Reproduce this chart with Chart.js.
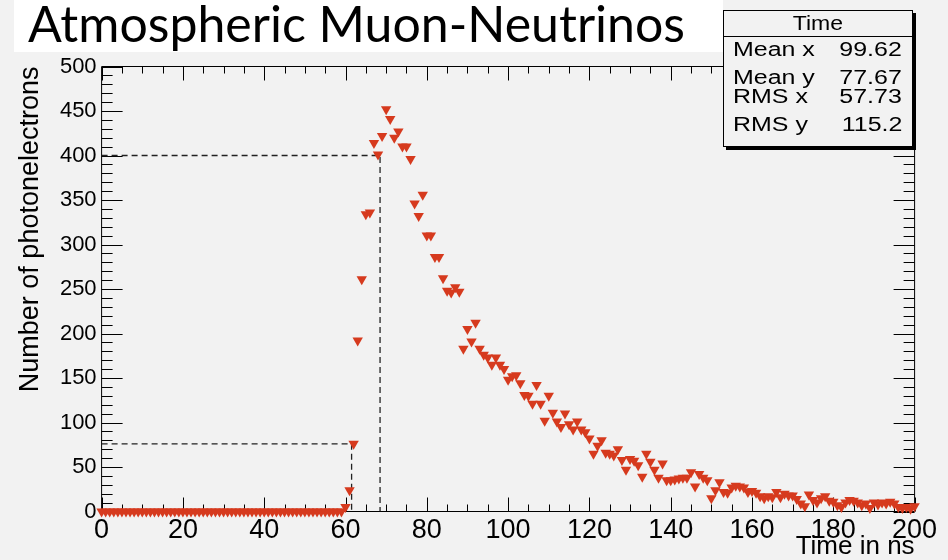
<!DOCTYPE html>
<html><head><meta charset="utf-8">
<script src="https://cdn.jsdelivr.net/npm/chart.js@4.4.0/dist/chart.umd.min.js"></script>
<style>
html,body{margin:0;padding:0;background:#f2f2f2;}
#wrap{position:relative;width:948px;height:560px;overflow:hidden;background:#f2f2f2;}
#c{position:absolute;left:0;top:0;}
#titlebox{position:absolute;left:14px;top:0;width:709px;height:52px;background:#fff;}
#title{position:absolute;left:28px;top:-2px;font-family:Lato,"Open Sans",sans-serif;font-size:50px;line-height:1;color:#000;white-space:nowrap;}
#stats{position:absolute;left:723px;top:10px;width:188px;height:135px;border:1px solid #000;background:#f2f2f2;box-shadow:3px 3px 0 #000;font-family:"Liberation Sans",Arial,sans-serif;color:#000;}
#stats .sep{position:absolute;left:0;right:0;top:25px;height:0;border-top:1px solid #000;}
#stats .hdr{position:absolute;left:0;right:0;top:2px;text-align:center;font-size:20px;line-height:1;}
#stats .hdr span{display:inline-block;transform:scaleX(1.15);}
#stats .lab{position:absolute;left:9px;font-size:19.5px;line-height:1;transform:scaleX(1.28);transform-origin:left center;white-space:nowrap;}
#stats .val{position:absolute;right:10px;font-size:19.5px;line-height:1;transform:scaleX(1.28);transform-origin:right center;white-space:nowrap;}
</style>
</head><body>
<div id="wrap">
  <canvas id="c" width="948" height="560"></canvas>
  <div id="titlebox"></div>
  <div id="title">Atmospheric Muon-Neutrinos</div>
  <div id="stats">
    <div class="hdr"><span>Time</span></div>
    <div class="sep"></div>
    <div class="lab" style="top:29px">Mean x</div><div class="val" style="top:29px">99.62</div>
    <div class="lab" style="top:57px">Mean y</div><div class="val" style="top:57px">77.67</div>
    <div class="lab" style="top:76px">RMS x</div><div class="val" style="top:76px">57.73</div>
    <div class="lab" style="top:104px">RMS y</div><div class="val" style="top:104px">115.2</div>
  </div>
</div>
<script>
// ---- data (histogram of photoelectron arrival times, 1 ns bins) ----
const BIN_START = 0;      // ns, first bin
const BIN_WIDTH = 1;      // ns
const counts = [
  0,0,0,0,0,0,0,0,0,0, 0,0,0,0,0,0,0,0,0,0,
  0,0,0,0,0,0,0,0,0,0, 0,0,0,0,0,0,0,0,0,0,
  0,0,0,0,0,0,0,0,0,0, 0,0,0,0,0,0,0,0,0,0,
  5,24,76,192,261,334,336,414,401,422,
  452,441,420,427,410,410,396,346,332,356,
  310,310,286,286,262,248,246,252,247,183,
  205,191,212,183,176,173,165,173,165,160,
  148,152,153,144,131,130,121,142,121,102,
  130,111,101,95,110,98,92,101,92,89,
  82,65,74,80,66,65,63,70,58,47,
  59,57,52,39,65,56,47,38,54,35,
  35,36,37,38,38,44,28,42,38,35,
  15,24,33,22,21,27,29,28,27,22,
  23,21,17,15,17,16,22,16,20,18,
  18,14,9,6,19,13,10,15,17,12,
  11,7,5,10,13,12,10,7,9,4,
  10,8,10,9,11,9,5,4,5,3,
  6
];
// threshold marker lines (time in ns, photoelectrons)
const lowThresholdLine  = [{x:0, y:76},  {x:61.5, y:76},  {x:61.5, y:0}];
const highThresholdLine = [{x:0, y:400}, {x:68.5, y:400}, {x:68.5, y:0}];
// axes
const xRange = [0, 200], xMajor = 20, xMinor = 5;
const yRange = [0, 500], yMajor = 50, yMinor = 10;

const points = counts.map((c, i) => ({x: BIN_START + i * BIN_WIDTH, y: c}));

const rootFrame = {
  id: 'rootFrame',
  beforeDatasetsDraw(chart) {
    const {ctx, chartArea: a, scales: {x, y}} = chart;
    ctx.save();
    ctx.strokeStyle = '#000';
    ctx.lineWidth = 1;
    ctx.beginPath();
    ctx.rect(a.left, a.top, a.right - a.left, a.bottom - a.top);
    for (let v = xRange[0]; v <= xRange[1] + 1e-9; v += xMinor) {
      const px = Math.round(x.getPixelForValue(v)) + 0.5;
      const len = (v % xMajor === 0) ? 14 : 7;
      ctx.moveTo(px, a.bottom); ctx.lineTo(px, a.bottom - len);
      ctx.moveTo(px, a.top); ctx.lineTo(px, a.top + len);
    }
    for (let v = yRange[0]; v <= yRange[1] + 1e-9; v += yMinor) {
      const py = Math.round(y.getPixelForValue(v)) + 0.5;
      const len = (v % yMajor === 0) ? 21 : 11;
      ctx.moveTo(a.left, py); ctx.lineTo(a.left + len, py);
      ctx.moveTo(a.right, py); ctx.lineTo(a.right - len, py);
    }
    ctx.stroke();
    ctx.restore();
  }
};

const tickFont = (s) => ({family: '"Liberation Sans", Arial, sans-serif', size: s});

new Chart(document.getElementById('c'), {
  type: 'scatter',
  data: {
    datasets: [
      {
        label: 'Time',
        data: points,
        pointStyle: 'triangle',
        rotation: 180,
        pointRadius: 6,
        pointHoverRadius: 6,
        backgroundColor: '#d63a1e',
        borderColor: '#d63a1e',
        borderWidth: 0,
        clip: false,
        order: 1
      },
      {
        type: 'line', data: lowThresholdLine, borderColor: '#222', borderWidth: 1.3,
        borderDash: [6, 4], pointRadius: 0, fill: false, tension: 0, order: 2
      },
      {
        type: 'line', data: highThresholdLine, borderColor: '#222', borderWidth: 1.3,
        borderDash: [6, 4], pointRadius: 0, fill: false, tension: 0, order: 2
      }
    ]
  },
  options: {
    responsive: false,
    animation: false,
    devicePixelRatio: 1,
    layout: {padding: {top: 66.5, right: 33.4, left: 0, bottom: 0}},
    plugins: {legend: {display: false}, tooltip: {enabled: false}},
    scales: {
      x: {
        type: 'linear', position: 'bottom', min: xRange[0], max: xRange[1],
        ticks: {stepSize: xMajor, font: tickFont(27), color: '#000', padding: 3, maxRotation: 0, autoSkip: false},
        grid: {display: false, drawTicks: false},
        border: {display: false},
        title: {display: true, text: 'Time in ns', align: 'end', color: '#000',
                font: {family: '"Liberation Sans", Arial, sans-serif', size: 26, lineHeight: 1},
                padding: {top: 0, bottom: 0}},
        afterFit(s) { s.height = 48.5; }
      },
      y: {
        type: 'linear', min: yRange[0], max: yRange[1],
        ticks: {stepSize: yMajor, font: tickFont(22), color: '#000', padding: 5},
        grid: {display: false, drawTicks: false},
        border: {display: false},
        title: {display: true, text: 'Number of photonelectrons', align: 'end', color: '#000',
                font: {family: '"Liberation Sans", Arial, sans-serif', size: 27, lineHeight: 1.2},
                padding: {top: 14, bottom: 0}},
        afterFit(s) { s.width = 101.6; }
      }
    }
  },
  plugins: [rootFrame]
});
</script>
</body></html>
